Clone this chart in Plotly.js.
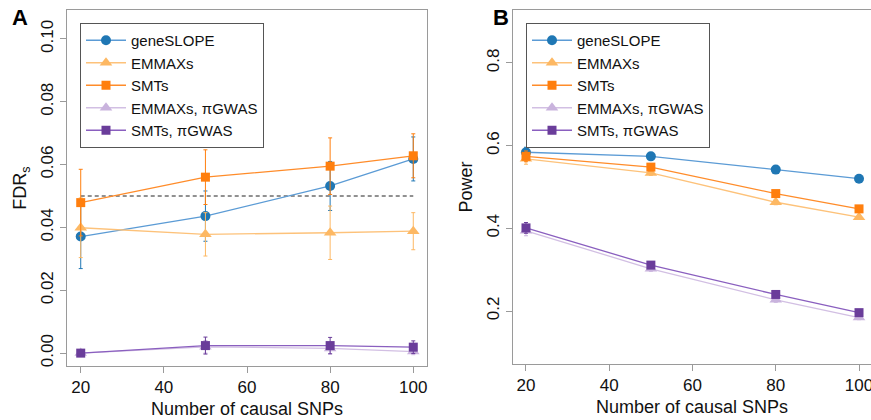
<!DOCTYPE html>
<html>
<head>
<meta charset="utf-8">
<script src="https://cdn.plot.ly/plotly-3.0.1.min.js"></script>
<style>html,body{margin:0;padding:0;background:#fff;}#chart{width:871px;height:420px;}</style>
</head>
<body>
<div id="chart"></div>
<script>
// ---- data ----
const snps = [20, 50, 80, 100];
const seriesNames = ["geneSLOPE", "EMMAXs", "SMTs", "EMMAXs, \u03c0GWAS", "SMTs, \u03c0GWAS"];

// Panel A: FDR_s
const fdrGeneSLOPE = [0.0371, 0.0436, 0.0532, 0.0618];
const fdrGeneSLOPEErr = [0.0102, 0.0080, 0.0078, 0.0070];
const fdrEMMAX = [0.0399, 0.0378, 0.0383, 0.0388];
const fdrEMMAXErr = [0.0095, 0.0069, 0.0085, 0.0059];
const fdrSMT = [0.0479, 0.0560, 0.0595, 0.0628];
const fdrSMTErr = [0.0106, 0.0087, 0.0090, 0.0070];
const fdrEMMAXpi = [0.0000, 0.0020, 0.0015, 0.0005];
const fdrEMMAXpiErr = [0.0008, 0.0020, 0.0018, 0.0010];
const fdrSMTpi = [0.0000, 0.0024, 0.0024, 0.0019];
const fdrSMTpiErr = [0.0010, 0.0027, 0.0026, 0.0020];
const fdrLevelX = [20, 100];
const fdrLevel = [0.05, 0.05];

// Panel B: Power
const powGeneSLOPE = [0.584, 0.574, 0.542, 0.520];
const powGeneSLOPEErr = [0.012, 0.006, 0.006, 0.005];
const powEMMAX = [0.568, 0.534, 0.463, 0.427];
const powEMMAXErr = [0.013, 0.006, 0.006, 0.005];
const powSMT = [0.574, 0.548, 0.484, 0.447];
const powSMTErr = [0.013, 0.006, 0.006, 0.005];
const powEMMAXpi = [0.394, 0.302, 0.227, 0.184];
const powEMMAXpiErr = [0.012, 0.006, 0.006, 0.005];
const powSMTpi = [0.401, 0.311, 0.240, 0.196];
const powSMTpiErr = [0.013, 0.006, 0.006, 0.005];

const xTicks = [20, 40, 60, 80, 100];
const fdrTicks = [0.00, 0.02, 0.04, 0.06, 0.08, 0.10];
const powTicks = [0.2, 0.4, 0.6, 0.8];

// ---- styles ----
const styles = [
  {marker: "#1f77b4", line: "#5b9bd5", symbol: "circle", size: 10},
  {marker: "#fdb863", line: "#fdc27a", symbol: "triangle-up", size: 11},
  {marker: "#ff7f0e", line: "#ff8c2a", symbol: "square", size: 9},
  {marker: "#c9b3dd", line: "#d2bfe3", symbol: "triangle-up", size: 11},
  {marker: "#6a3d9a", line: "#8a5fbf", symbol: "square", size: 9}
];

function mk(i, x, y, err, xa, ya, leg) {
  const s = styles[i];
  return {
    type: "scatter", mode: "lines+markers", x: x, y: y, name: seriesNames[i],
    xaxis: xa, yaxis: ya, legend: leg,
    line: {color: s.line, width: 1.3},
    marker: {color: s.marker, symbol: s.symbol, size: s.size, line: {width: 0}},
    error_y: {type: "data", array: err, visible: true, color: s.marker, thickness: 1, width: 2}
  };
}

const traces = [
  {type: "scatter", mode: "lines", x: fdrLevelX, y: fdrLevel, xaxis: "x", yaxis: "y",
   line: {color: "#222", width: 1, dash: "4px,3px"}, showlegend: false, hoverinfo: "skip"},
  mk(0, snps, fdrGeneSLOPE, fdrGeneSLOPEErr, "x", "y", "legend"),
  mk(1, snps, fdrEMMAX, fdrEMMAXErr, "x", "y", "legend"),
  mk(2, snps, fdrSMT, fdrSMTErr, "x", "y", "legend"),
  mk(3, snps, fdrEMMAXpi, fdrEMMAXpiErr, "x", "y", "legend"),
  mk(4, snps, fdrSMTpi, fdrSMTpiErr, "x", "y", "legend"),
  mk(0, snps, powGeneSLOPE, powGeneSLOPEErr, "x2", "y2", "legend2"),
  mk(1, snps, powEMMAX, powEMMAXErr, "x2", "y2", "legend2"),
  mk(2, snps, powSMT, powSMTErr, "x2", "y2", "legend2"),
  mk(3, snps, powEMMAXpi, powEMMAXpiErr, "x2", "y2", "legend2"),
  mk(4, snps, powSMTpi, powSMTpiErr, "x2", "y2", "legend2")
];

const FONT = "Liberation Sans, Arial, Helvetica, sans-serif";
const axisCommon = {
  showline: true, mirror: true, linecolor: "#9a9a9a", linewidth: 1,
  ticks: "outside", ticklen: 6, tickcolor: "#9a9a9a", tickwidth: 1,
  showgrid: false, zeroline: false,
  tickfont: {family: FONT, size: 17, color: "#111"}
};

const legendCommon = {
  bgcolor: "#fff", bordercolor: "#555", borderwidth: 1,
  font: {family: FONT, size: 15, color: "#111"},
  xanchor: "left", yanchor: "top", tracegroupgap: 0, itemwidth: 40
};

const layout = {
  width: 871, height: 420,
  margin: {l: 0, r: 0, t: 0, b: 0},
  paper_bgcolor: "#fff", plot_bgcolor: "#fff",
  font: {family: FONT, color: "#111"},
  xaxis: Object.assign({}, axisCommon, {
    domain: [67/871, 427/871], range: [16.7, 103.3], tickvals: xTicks, anchor: "y",
    title: {text: "Number of causal SNPs", font: {family: FONT, size: 18, color: "#111"}, standoff: 5}
  }),
  yaxis: Object.assign({}, axisCommon, {
    domain: [1 - 366/420, 1 - 10/420], range: [-0.0041, 0.1092], tickvals: fdrTicks,
    tickformat: ".2f", tickangle: -90, anchor: "x",
    title: {text: "FDR<sub>s</sub>", font: {family: FONT, size: 18, color: "#111"}, standoff: 6}
  }),
  xaxis2: Object.assign({}, axisCommon, {
    domain: [513/871, 1], range: [16.88, 102.88], tickvals: xTicks, anchor: "y2",
    ticklabeloverflow: "allow",
    title: {text: "Number of causal SNPs", font: {family: FONT, size: 18, color: "#111"}, standoff: 5}
  }),
  yaxis2: Object.assign({}, axisCommon, {
    domain: [1 - 364/420, 1 - 10/420], range: [0.0718, 0.928], tickvals: powTicks,
    tickformat: ".1f", tickangle: -90, anchor: "x2",
    title: {text: "Power", font: {family: FONT, size: 18, color: "#111"}, standoff: 6}
  }),
  legend: Object.assign({}, legendCommon, {x: 80/871, y: 1 - 23/420}),
  legend2: Object.assign({}, legendCommon, {x: 526/871, y: 1 - 23/420}),
  annotations: [
    {text: "<b>A</b>", xref: "paper", yref: "paper", x: 20/871, y: 1 - 18/420, xanchor: "center", yanchor: "middle",
     showarrow: false, font: {family: FONT, size: 22, color: "#000"}},
    {text: "<b>B</b>", xref: "paper", yref: "paper", x: 501/871, y: 1 - 18/420, xanchor: "center", yanchor: "middle",
     showarrow: false, font: {family: FONT, size: 22, color: "#000"}}
  ],
  showlegend: true
};

Plotly.newPlot("chart", traces, layout, {displayModeBar: false, staticPlot: true});
</script>
</body>
</html>
